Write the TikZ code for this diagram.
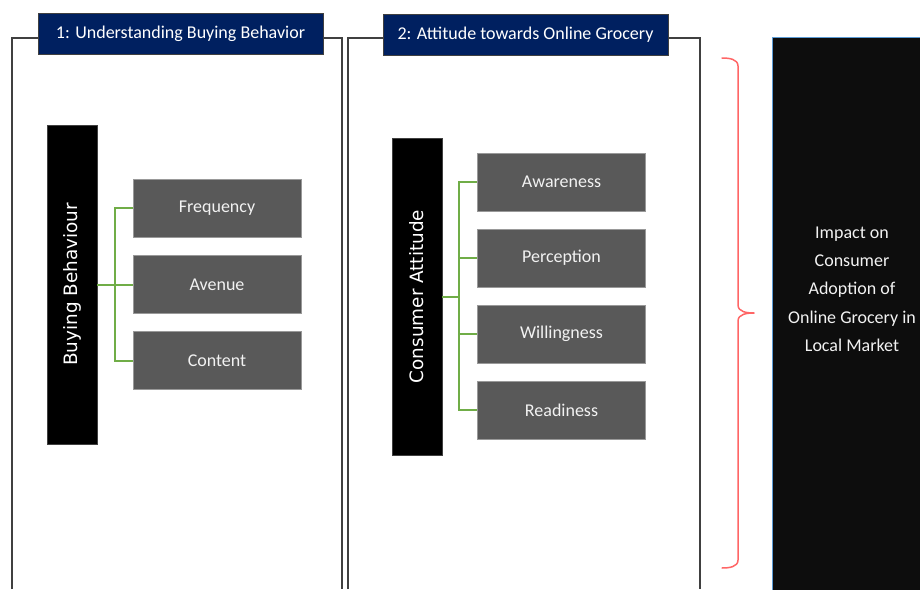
\documentclass[tikz,border=0pt]{standalone}
\usepackage{fontspec}
\setmainfont{Carlito}
\newfontfamily\barfont{DejaVu Sans}
\definecolor{navy}{HTML}{002060}
\definecolor{boxgray}{HTML}{595959}
\definecolor{framegray}{HTML}{404040}
\definecolor{lgreen}{HTML}{70AD47}
\definecolor{bracered}{HTML}{FF6666}
\definecolor{nearblack}{HTML}{0D0D0D}
\definecolor{edgeblue}{HTML}{5B9BD5}
\tikzset{
  titlebox/.style={fill=navy, draw=framegray, line width=0.8pt, text=white,
    minimum width=285pt, minimum height=41pt, inner sep=0pt,
    font=\fontsize{18}{20}\selectfont},
  itembox/.style={fill=boxgray, draw=gray!80, line width=0.6pt, text=white!95!black,
    minimum width=168pt, minimum height=58pt, inner sep=0pt,
    font=\fontsize{18}{20}\selectfont},
  barbox/.style={fill=black, draw=framegray, line width=0.6pt, text=white,
    minimum width=50pt, inner sep=0pt},
  bartext/.style={text=white, rotate=90, font=\barfont\fontsize{18.4}{20}\selectfont},
  frameline/.style={draw=framegray, line width=1.2pt},
  branch/.style={draw=lgreen, line width=2pt},
  bracestyle/.style={draw=bracered, line width=1.5pt, line cap=round, line join=round}
}
\begin{document}
\begin{tikzpicture}[x=1pt,y=-1pt]
\useasboundingbox (0,0) rectangle (920,589);
% panel frames
\draw[frameline] (12,589) -- (12,38) -- (342,38) -- (342,589);
\draw[frameline] (348,589) -- (348,38) -- (700,38) -- (700,589);
% titles
\node[titlebox] (t1) at (180.5,33.5) {1: Understanding Buying Behavior};
\node[titlebox] (t2) at (525.5,34.5) {2: Attitude towards Online Grocery};
% panel 1
\node[barbox, minimum height=319pt] (bb) at (72,284.5) {};
\node[bartext] (bbt) at (bb.center) {Buying Behaviour};
\node[itembox] (freq) at (217,208) {Frequency};
\node[itembox] (aven) at (217,284.5) {Avenue};
\node[itembox] (cont) at (217,360.5) {Content};
\draw[branch] (bb.east) -- ++(18,0) coordinate (j1);
\draw[branch] (j1) -- (aven.west);
\draw[branch] (j1) |- (freq.west);
\draw[branch] (j1) |- (cont.west);
% panel 2
\node[barbox, minimum height=317pt] (ca) at (417,296.5) {};
\node[bartext] (cat) at (ca.center) {Consumer Attitude};
\node[itembox] (awar) at (561.5,182) {Awareness};
\node[itembox] (perc) at (561.5,258) {Perception};
\node[itembox] (will) at (561.5,334) {Willingness};
\node[itembox] (read) at (561.5,410) {Readiness};
\draw[branch] (ca.east) -- ++(17,0) coordinate (j2);
\draw[branch] (j2) |- (awar.west);
\draw[branch] (j2) |- (perc.west);
\draw[branch] (j2) |- (will.west);
\draw[branch] (j2) |- (read.west);
% brace
\draw[bracestyle] (722,58) to[out=0,in=90] (738,66) -- (738,305)
  to[out=-90,in=180] (754,313) coordinate (tip)
  to[out=180,in=90] (738,321) -- (738,560) to[out=-90,in=0] (722,568);
% impact box
\node[fill=nearblack, draw=edgeblue, line width=0.8pt, anchor=north west,
  minimum width=160pt, minimum height=570pt, inner sep=0pt] (impbox) at (772,37) {};
\node[text=white!95!black, align=center, font=\fontsize{18}{28.3}\selectfont] (imp) at (852,289)
  {Impact on\\Consumer\\Adoption of\\Online Grocery in\\Local Market};
\end{tikzpicture}
\end{document}
